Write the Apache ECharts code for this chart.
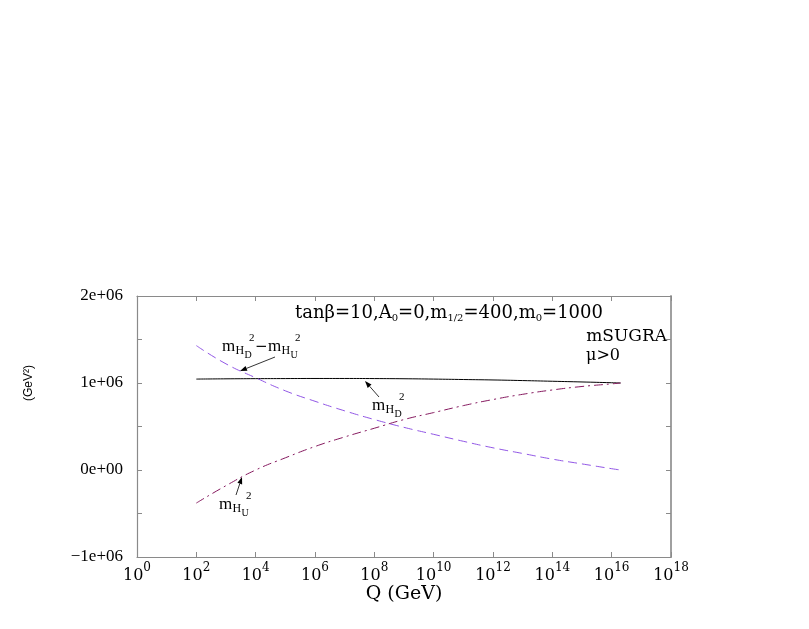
<!DOCTYPE html>
<html><head><meta charset="utf-8">
<script src="https://cdn.jsdelivr.net/npm/echarts@6/dist/echarts.min.js"></script>
<style>html,body{margin:0;padding:0;background:#fff}#c{width:809px;height:629px}</style>
</head><body><div id="c"></div>
<script>
// log10(Q / GeV)
const logQ = [2, 3, 4, 5, 6, 7, 8, 9, 10, 11, 12, 13, 14, 15, 16, 16.3];
// m_HD^2 (decreasing, dashed)
const mHD2 = [1.43e6, 1.22e6, 1.06e6, 0.91e6, 0.79e6, 0.68e6, 0.58e6, 0.49e6, 0.41e6, 0.33e6, 0.255e6, 0.19e6, 0.125e6, 0.07e6, 0.015e6, 0.0];
// m_HU^2 (increasing, dash-dot)
const mHU2 = [-0.38e6, -0.18e6, 0.0, 0.14e6, 0.27e6, 0.38e6, 0.48e6, 0.58e6, 0.66e6, 0.74e6, 0.81e6, 0.87e6, 0.92e6, 0.96e6, 0.99e6, 1.0e6];
// m_HD^2 - m_HU^2 (solid)
const diff = [1.045e6, 1.048e6, 1.05e6, 1.051e6, 1.052e6, 1.052e6, 1.051e6, 1.049e6, 1.045e6, 1.04e6, 1.035e6, 1.028e6, 1.02e6, 1.012e6, 1.003e6, 1.0e6];
const xTicks = [0, 2, 4, 6, 8, 10, 12, 14, 16, 18];
const yTickLabels = {'-1000000': '\u22121e+06', '0': '0e+00', '1000000': '1e+06', '2000000': '2e+06'};

const SERIF = '"Liberation Serif","DejaVu Serif",serif';
const WSERIF = '"DejaVu Serif",serif';
const pair = (xs, ys) => xs.map((x, i) => [x, ys[i]]);
const chart = echarts.init(document.getElementById('c'), null, {renderer: 'canvas'});

function mh(x, y, s) {
  return [
    {type: 'text', x: x, y: y, style: {text: 'm', font: '17px ' + SERIF, fill: '#000', textVerticalAlign: 'middle'}},
    {type: 'text', x: x + 13.5, y: y + 4, style: {text: 'H', font: '12px ' + SERIF, fill: '#000', textVerticalAlign: 'middle'}},
    {type: 'text', x: x + 22.5, y: y + 8, style: {text: s, font: '10px ' + SERIF, fill: '#000', textVerticalAlign: 'middle'}},
    {type: 'text', x: x + 27, y: y - 9, style: {text: '2', font: '11px ' + SERIF, fill: '#000', textVerticalAlign: 'middle'}}
  ];
}
function arrow(x1, y1, x2, y2) {
  const a = Math.atan2(y2 - y1, x2 - x1), L = 7, W = 2.5;
  const bx = x2 - L * Math.cos(a), by = y2 - L * Math.sin(a);
  return [
    {type: 'line', shape: {x1: x1, y1: y1, x2: bx, y2: by}, style: {stroke: '#000', lineWidth: 0.8}},
    {type: 'polygon', shape: {points: [[x2, y2], [bx - W * Math.sin(a), by + W * Math.cos(a)], [bx + W * Math.sin(a), by - W * Math.cos(a)]]}, style: {fill: '#000'}}
  ];
}

const graphics = [].concat(
  [{type: 'text', x: 449, y: 313, style: {
    text: '{b|tan\u03b2=10,A}{s|0}{b|=0,m}{s|1/2}{b|=400,m}{s|0}{b|=1000}',
    textAlign: 'center', textVerticalAlign: 'middle',
    rich: {b: {font: '18px ' + WSERIF, fill: '#000', lineHeight: 22, verticalAlign: 'middle'},
           s: {font: '10px ' + WSERIF, fill: '#000', lineHeight: 22, verticalAlign: 'bottom', padding: [0, 0, 1, 0]}}
  }},
  {type: 'text', x: 667, y: 337, style: {text: 'mSUGRA', font: '17px ' + WSERIF, fill: '#000', textAlign: 'right', textVerticalAlign: 'middle'}},
  {type: 'text', x: 603, y: 356, style: {text: '\u03bc>0', font: '16px ' + WSERIF, fill: '#000', textAlign: 'center', textVerticalAlign: 'middle'}},
  {type: 'text', x: 29, y: 383, rotation: Math.PI / 2, style: {text: '(GeV\u00b2)', font: '12px "Liberation Sans",sans-serif', fill: '#000', textAlign: 'center', textVerticalAlign: 'middle'}},
  {type: 'text', x: 255, y: 347, style: {text: '\u2212', font: '15px ' + WSERIF, fill: '#000', textVerticalAlign: 'middle'}}],
  mh(222, 347, 'D'), mh(268, 347, 'U'),
  arrow(275, 357, 240, 371),
  mh(372, 406, 'D'),
  arrow(379, 397, 365, 381),
  mh(219, 505, 'U'),
  arrow(236, 495, 242, 477)
);

const tickStyle = {color: '#8a8a8a'};
const axisLineStyle = {color: '#8a8a8a', width: 1.2};
chart.setOption({
  animation: false,
  backgroundColor: '#fff',
  grid: {left: 137, right: 138, top: 296, bottom: 72, containLabel: false},
  xAxis: [{
    type: 'value', min: 0, max: 18, interval: 2,
    name: 'Q (GeV)', nameLocation: 'middle', nameGap: 28,
    nameTextStyle: {fontFamily: WSERIF, fontSize: 19, color: '#000'},
    axisLine: {onZero: false, lineStyle: axisLineStyle},
    axisTick: {inside: true, length: 5, lineStyle: tickStyle},
    splitLine: {show: false},
    axisLabel: {margin: 5, formatter: v => '{b|10}{s|' + v + '}',
      rich: {b: {fontFamily: WSERIF, fontSize: 16, color: '#000', verticalAlign: 'bottom', lineHeight: 22},
             s: {fontFamily: WSERIF, fontSize: 12, color: '#000', verticalAlign: 'top', lineHeight: 22}}}
  }, {
    type: 'value', position: 'top', min: 0, max: 18, interval: 2,
    axisLine: {onZero: false, lineStyle: axisLineStyle},
    axisTick: {inside: true, length: 5, lineStyle: tickStyle},
    axisLabel: {show: false}, splitLine: {show: false}
  }],
  yAxis: [{
    type: 'value', min: -1e6, max: 2e6, interval: 5e5,
    axisLine: {show: true, onZero: false, lineStyle: axisLineStyle},
    axisTick: {show: true, inside: true, length: 5, lineStyle: tickStyle},
    splitLine: {show: false},
    axisLabel: {margin: 14, fontFamily: SERIF, fontSize: 17, color: '#000',
      formatter: v => (yTickLabels[String(v)] !== undefined ? yTickLabels[String(v)] : '')}
  }, {
    type: 'value', position: 'right', min: -1e6, max: 2e6, interval: 5e5,
    axisLine: {show: true, onZero: false, lineStyle: {color: '#a0a0a0', width: 2}},
    axisTick: {show: true, inside: true, length: 5, lineStyle: tickStyle},
    axisLabel: {show: false}, splitLine: {show: false}
  }],
  series: [
    {type: 'line', name: 'diff', data: pair(logQ, diff), showSymbol: false, smooth: true,
     lineStyle: {color: '#000', width: 1, type: 'solid'}},
    {type: 'line', name: 'mHD2', data: pair(logQ, mHD2), showSymbol: false, smooth: true,
     lineStyle: {color: '#9257e6', width: 1, type: [9, 5]}},
    {type: 'line', name: 'mHU2', data: pair(logQ, mHU2), showSymbol: false, smooth: true,
     lineStyle: {color: '#86195f', width: 1, type: [9, 4, 2, 4]}}
  ],
  graphic: graphics
});
</script></body></html>
